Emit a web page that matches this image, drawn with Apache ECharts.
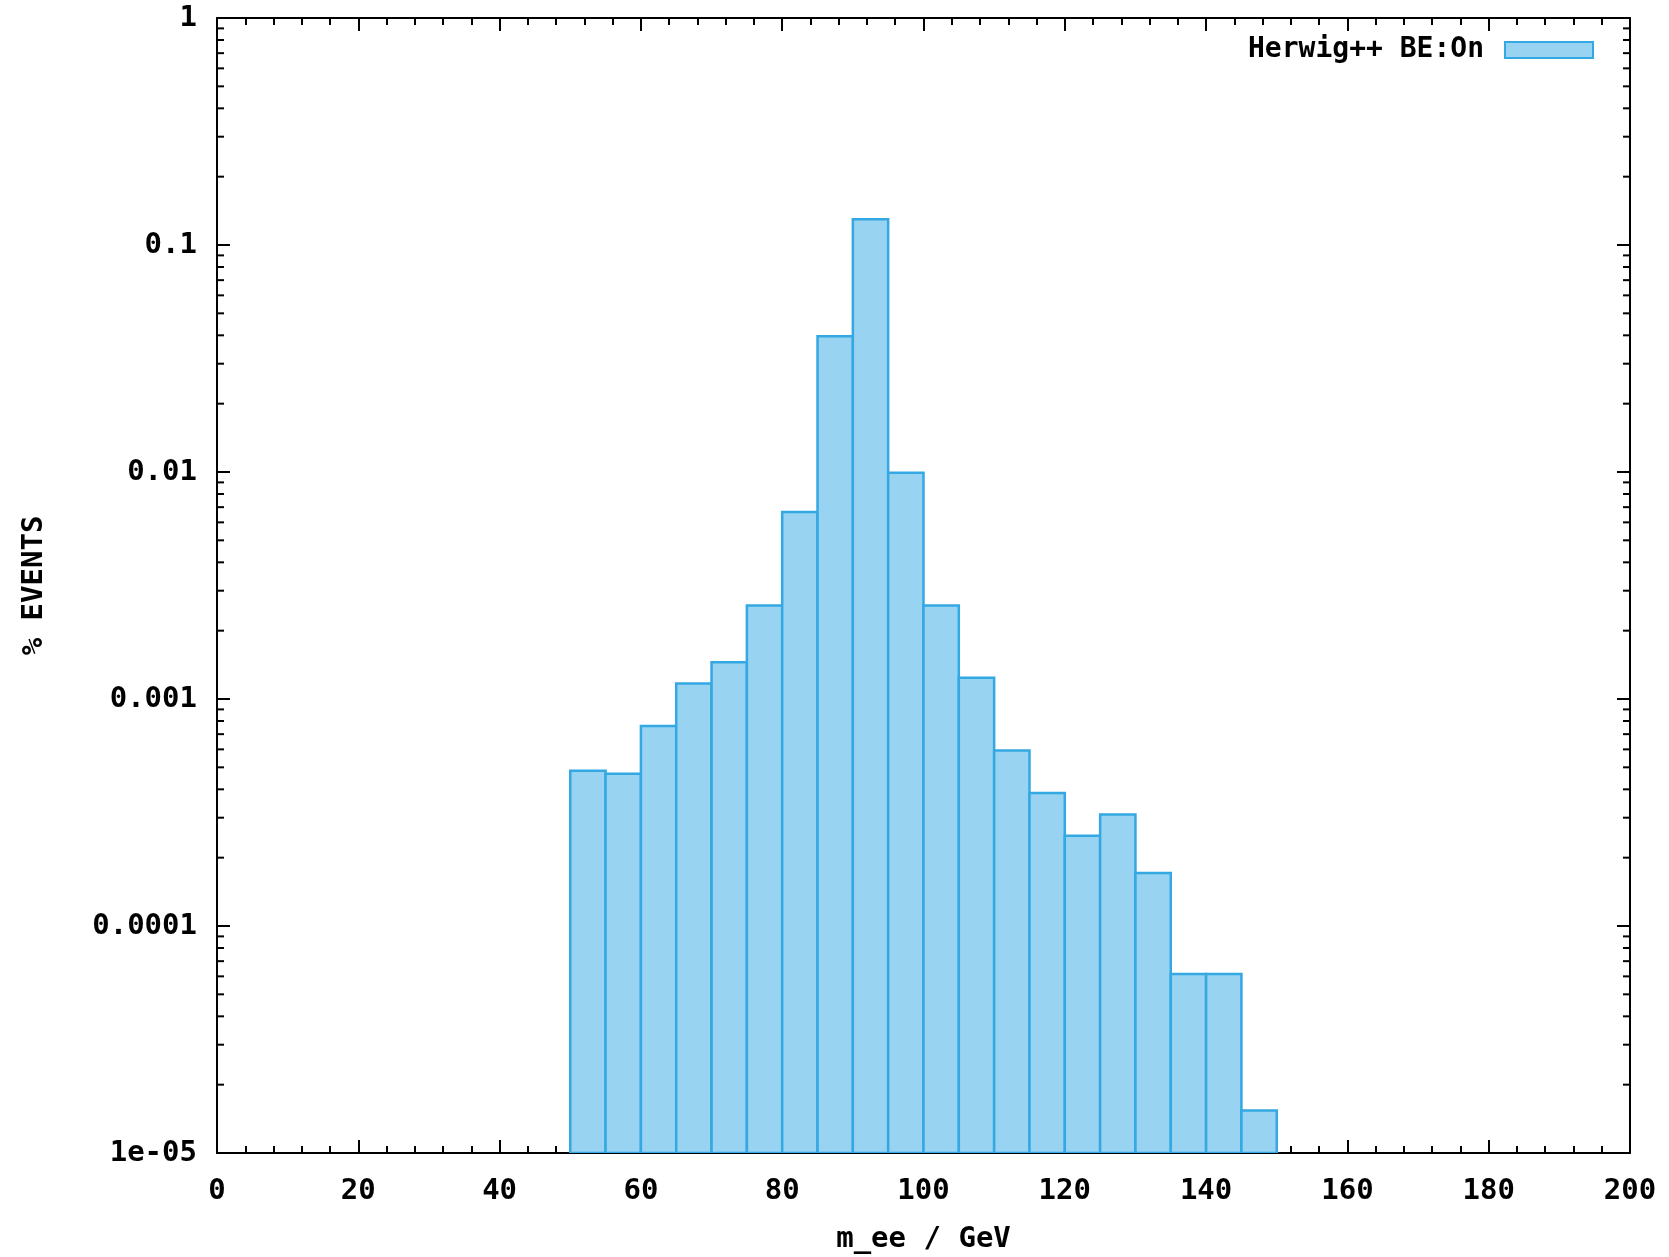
<!DOCTYPE html>
<html>
<head>
<meta charset="utf-8">
<script src="https://cdn.jsdelivr.net/npm/echarts@6/dist/echarts.min.js"></script>
<style>
  html, body { margin: 0; padding: 0; background: #fff; }
  #chart { width: 1669px; height: 1257px; }
</style>
</head>
<body>
<div id="chart"></div>
<script>
// histogram bins (GeV)
const binLow = [50, 55, 60, 65, 70, 75, 80, 85, 90, 95, 100, 105, 110, 115, 120, 125, 130, 135, 140, 145]
const binWidth = 5
const events = [4.83e-4, 4.68e-4, 7.6e-4, 1.17e-3, 1.45e-3, 2.58e-3, 6.67e-3, 0.0396, 0.130, 0.00993,
  2.58e-3, 1.24e-3, 5.93e-4, 3.85e-4, 2.50e-4, 3.10e-4, 1.71e-4, 6.14e-5, 6.14e-5, 1.54e-5]

// axes
const xMin = 0
const xMax = 200
const xStep = 20
const yMin = 1e-5
const yMax = 1
const yLabels = { '1': '1', '0.1': '0.1', '0.01': '0.01', '0.001': '0.001', '0.0001': '0.0001', '0.00001': '1e-05' }
const decades = [1e-5, 1e-4, 1e-3, 1e-2, 1e-1]
const minorSteps = [2, 3, 4, 5, 6, 7, 8, 9]

const seriesName = 'Herwig++ BE:On'
const fillColor = '#98d3f1'
const edgeColor = '#34a8e3'
const font = 'DejaVu Sans Mono'

const histData = binLow.map((lo, i) => [lo, lo + binWidth, events[i]])
const minorTicks = []
decades.forEach((d) => minorSteps.forEach((k) => minorTicks.push([k * d])))

const chart = echarts.init(document.getElementById('chart'))

const labelStyle = {
  color: '#000',
  fontFamily: font,
  fontWeight: 'bold',
  fontSize: 29,
}

const xAxisBase = {
  type: 'value',
  min: xMin,
  max: xMax,
  interval: xStep,
  splitLine: { show: false },
  axisLine: { show: true, onZero: false, lineStyle: { color: '#000', width: 2 } },
  axisTick: { show: true, inside: true, length: 13, lineStyle: { color: '#000', width: 2 } },
  minorTick: { show: true, splitNumber: 5, length: 7, lineStyle: { color: '#000', width: 2 } },
}

const yAxisBase = {
  type: 'log',
  logBase: 10,
  min: yMin,
  max: yMax,
  splitNumber: 5,
  splitLine: { show: false },
  axisLine: { show: true, onZero: false, lineStyle: { color: '#000', width: 2 } },
  axisTick: { show: true, inside: true, length: 13, lineStyle: { color: '#000', width: 2 } },
}

const option = {
  animation: false,
  backgroundColor: '#fff',
  grid: { left: 217, right: 39, top: 18, bottom: 104, outerBoundsMode: 'none' },
  legend: {
    right: 70,
    top: 31,
    align: 'right',
    itemWidth: 88,
    itemHeight: 16,
    selectedMode: false,
    textStyle: { ...labelStyle, fontSize: 28, padding: [0, 16, 0, 0] },
    data: [{ name: seriesName, icon: 'rect', itemStyle: { color: fillColor, borderColor: edgeColor, borderWidth: 2 } }],
  },
  xAxis: [
    {
      ...xAxisBase,
      position: 'bottom',
      name: 'm_ee / GeV',
      nameLocation: 'middle',
      nameGap: 72,
      nameTextStyle: labelStyle,
      axisLabel: { ...labelStyle, margin: 24 },
    },
    {
      ...xAxisBase,
      position: 'top',
      axisLabel: { show: false },
    },
  ],
  yAxis: [
    {
      ...yAxisBase,
      position: 'left',
      name: '% EVENTS',
      nameLocation: 'middle',
      nameRotate: 90,
      nameGap: 168,
      nameTextStyle: labelStyle,
      axisLabel: {
        ...labelStyle,
        margin: 20,
        formatter: (v) => yLabels[String(+v.toPrecision(6))] || String(v),
      },
    },
    {
      ...yAxisBase,
      position: 'right',
      axisLabel: { show: false },
    },
  ],
  series: [
    {
      name: seriesName,
      type: 'custom',
      xAxisIndex: 0,
      yAxisIndex: 0,
      data: histData,
      encode: { x: [0, 1], y: 2 },
      clip: true,
      renderItem: (params, api) => {
        const p0 = api.coord([api.value(0), api.value(2)])
        const p1 = api.coord([api.value(1), yMin])
        return {
          type: 'rect',
          shape: { x: p0[0], y: p0[1], width: p1[0] - p0[0], height: p1[1] - p0[1] },
          style: { fill: fillColor, stroke: edgeColor, lineWidth: 2.5 },
        }
      },
      z: 1,
    },
    {
      // log minor ticks on left and right frame
      name: 'minorTicks',
      type: 'custom',
      xAxisIndex: 0,
      yAxisIndex: 0,
      data: minorTicks,
      encode: { y: 0 },
      silent: true,
      renderItem: (params, api) => {
        const l = api.coord([xMin, api.value(0)])
        const r = api.coord([xMax, api.value(0)])
        const st = { stroke: '#000', lineWidth: 2 }
        return {
          type: 'group',
          children: [
            { type: 'line', shape: { x1: l[0], y1: l[1], x2: l[0] + 7, y2: l[1] }, style: st },
            { type: 'line', shape: { x1: r[0], y1: r[1], x2: r[0] - 7, y2: r[1] }, style: st },
          ],
        }
      },
      z: 3,
    },
  ],
}

chart.setOption(option)
</script>
</body>
</html>
